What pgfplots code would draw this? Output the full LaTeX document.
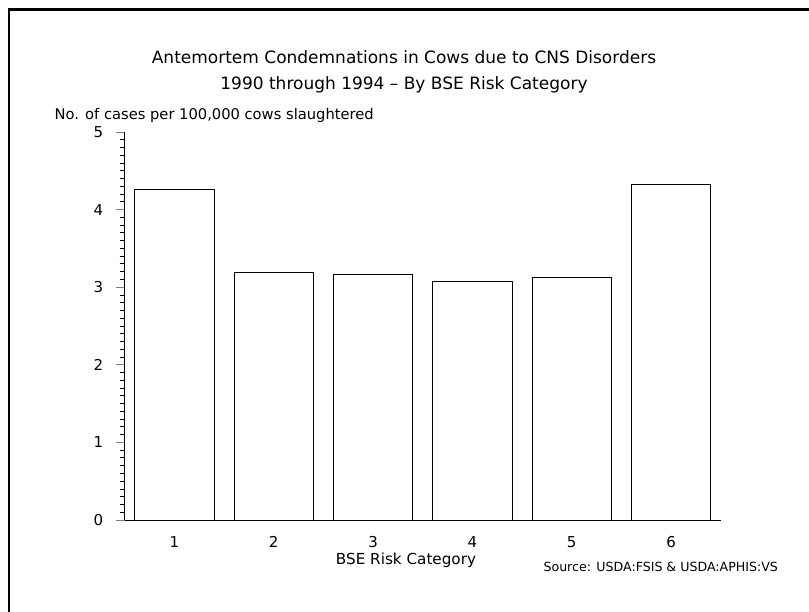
\documentclass[border=0pt]{standalone}
\usepackage{pgfplots}
\pgfplotsset{compat=1.18}
\usepackage{fontspec}
\setmainfont{DejaVu Sans}
\begin{document}
\begin{tikzpicture}[x=1pt,y=1pt]
\path[use as bounding box] (0,0) rectangle (809,612);
\draw[line width=2.5pt] (9,0) -- (9,602.5) -- (809,602.5);
\node[font=\fontsize{17}{20}\selectfont] at (404,555) {Antemortem Condemnations in Cows due to CNS Disorders};
\node[font=\fontsize{17}{20}\selectfont] at (404,527) {1990 through 1994 -- By BSE Risk Category};
\node[anchor=west,font=\fontsize{14.7}{16}\selectfont] at (51,497) {No. of cases per 100,000 cows slaughtered};
\node[font=\fontsize{15.2}{17}\selectfont] at (406,52) {BSE Risk Category};
\node[anchor=west,font=\fontsize{12.6}{14}\selectfont] at (540,45.3) {Source: USDA:FSIS \& USDA:APHIS:VS};
\begin{axis}[
  at={(124.7pt,92pt)}, anchor=south west,
  scale only axis, width=596pt, height=388pt,
  xmin=0.5, xmax=6.5, ymin=0, ymax=5,
  axis x line*=bottom, axis y line*=left,
  axis line style={line width=0.9pt,-},
  xtick={1,2,3,4,5,6}, ytick={0,1,2,3,4,5},
  minor y tick num=9,
  tick align=outside,
  xtick style={draw=none},
  ytick style={line width=0.9pt},
  every minor tick/.append style={line width=1pt, black},
  major tick length=9pt, minor tick length=5pt,
  /pgf/number format/assume math mode=true,
  tick label style={font=\fontsize{15}{17}\selectfont},
  xticklabel style={yshift=-4pt},
  yticklabel style={xshift=-9pt},
  ybar, bar width=0.8,
]
\addplot[fill=white, draw=black, line width=0.9pt] coordinates {(1,4.26) (2,3.19) (3,3.17) (4,3.07) (5,3.12) (6,4.33)};
\end{axis}
\end{tikzpicture}
\end{document}
